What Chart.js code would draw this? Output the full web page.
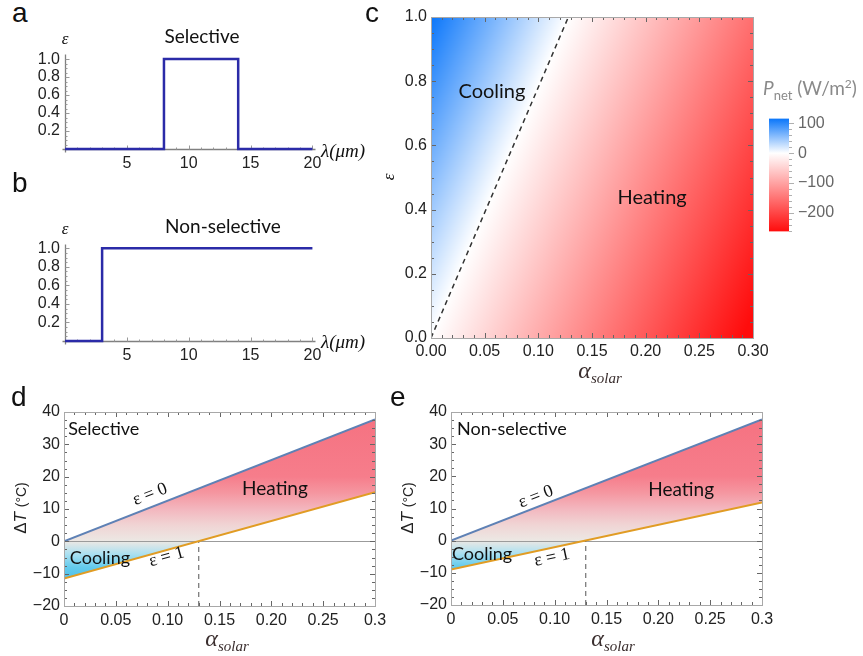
<!DOCTYPE html>
<html><head><meta charset="utf-8"><title>Selective vs non-selective emitters</title>
<script src="https://cdn.jsdelivr.net/npm/chart.js@4.4.1/dist/chart.umd.min.js"></script>
<style>
html,body{margin:0;padding:0;background:#fff;}
body{width:863px;height:656px;position:relative;overflow:hidden;}
canvas{position:absolute;}
.t{position:absolute;white-space:nowrap;line-height:1;color:#111;}
.c{transform:translate(-50%,-50%);}
.lm{transform:translate(0,-50%);}
.rot{transform:translate(-50%,-50%) rotate(-90deg);}
.pl{font-family:'Liberation Sans',Arial,sans-serif;font-size:28px;}
.ser{font-family:'Liberation Serif','Times New Roman',serif;font-style:italic;}
.cal{font-family:Lato,'Open Sans',sans-serif;}
.al{font-family:'Liberation Serif',serif;font-style:italic;color:#3b2f2f;font-size:24px;}
.al sub{font-size:15px;vertical-align:-5px;font-style:italic;}
.dt{font-family:'Liberation Sans',Arial,sans-serif;font-size:17px;color:#222;}
</style></head><body>
<canvas id="ca" style="left:0;top:40px" width="330" height="140"></canvas>
<canvas id="cb" style="left:0;top:230px" width="330" height="140"></canvas>
<canvas id="cc" style="left:360px;top:0" width="420" height="390"></canvas>
<canvas id="cbar" style="left:760px;top:100px" width="103" height="150"></canvas>
<canvas id="cd" style="left:0;top:390px" width="430" height="266"></canvas>
<canvas id="ce" style="left:385px;top:390px" width="478" height="266"></canvas>

<div class="t pl" style="left:12px;top:-1px">a</div>
<div class="t pl" style="left:12px;top:169px">b</div>
<div class="t pl" style="left:365px;top:-1px">c</div>
<div class="t pl" style="left:11px;top:383px">d</div>
<div class="t pl" style="left:390px;top:383px">e</div>

<div class="t c cal" style="left:202px;top:35px;font-size:19px">Selective</div>
<div class="t c cal" style="left:223px;top:225px;font-size:19px">Non-selective</div>
<div class="t c ser" style="left:65px;top:38px;font-size:17px">ε</div>
<div class="t c ser" style="left:65px;top:228px;font-size:17px">ε</div>
<div class="t lm ser" style="left:321px;top:150px;font-size:19px">λ(μm)</div>
<div class="t lm ser" style="left:321px;top:341px;font-size:19px">λ(μm)</div>
<div class="t rot ser" style="left:388px;top:177px;font-size:17px">ε</div>
<div class="t c al" style="left:600px;top:372px">α<sub>solar</sub></div>
<div class="t cal" style="left:763px;top:78px;font-size:19px;color:#8a8a8a"><i>P</i><span style="font-size:13px;position:relative;top:5px">net</span> (W/m<span style="font-size:12px;position:relative;top:-7px">2</span>)</div>
<div class="t rot dt" style="left:20px;top:508px">Δ<i>T</i> <span style="font-size:14px">(°C)</span></div>
<div class="t rot dt" style="left:407px;top:508px">Δ<i>T</i> <span style="font-size:14px">(°C)</span></div>
<div class="t c al" style="left:227px;top:640px">α<sub>solar</sub></div>
<div class="t c al" style="left:613px;top:640px">α<sub>solar</sub></div>

<script>
// ---------------- DATA ----------------
// panels a/b: emissivity spectra
const lambdaSel = [0, 8, 8, 14, 14, 20];
const epsSel    = [0, 0, 1, 1, 0, 0];
const lambdaNon = [0, 3, 3, 20];
const epsNon    = [0, 0, 1, 1];
const lambdaTicks = [5, 10, 15, 20];
const epsTicks = [0.2, 0.4, 0.6, 0.8, 1.0];

// panel c: net cooling power map P_net(alpha_solar, eps) in W/m2
const heatAlpha = [0, 0.05, 0.10, 0.15, 0.20, 0.25, 0.30];
const heatEps   = [0, 0.2, 0.4, 0.6, 0.8, 1.0];
const pnetRows = [
  [0,   -45,  -91, -136, -181, -227, -272],
  [23,  -22,  -67, -113, -158, -203, -249],
  [46,    1,  -44,  -89, -135, -180, -225],
  [70,   24,  -21,  -66, -112, -157, -202],
  [93,   48,    2,  -43,  -88, -134, -179],
  [116,  71,   25,  -20,  -65, -110, -156]
];
const zeroLineAlpha = [0, 0.128];
const zeroLineEps   = [0, 1];
const heatAlphaTicks = [0, 0.05, 0.10, 0.15, 0.20, 0.25, 0.30];
const heatEpsTicks = [0, 0.2, 0.4, 0.6, 0.8, 1.0];
const cbarRange = [-263, 116];
const cbarTicks = [100, 0, -100, -200];

// panels d/e: temperature difference vs solar absorptance
const alphaEnds = [0, 0.3];
const selEps0 = [0, 37.7];
const selEps1 = [-11.5, 15.2];
const nonEps0 = [0, 37.7];
const nonEps1 = [-9.0, 11.9];
const crossAlpha = [0.13, 0.13];
const crossDT = [-20, 0];
const alphaTicks = [0, 0.05, 0.10, 0.15, 0.20, 0.25, 0.30];
const alphaTickLabels = ['0', '0.05', '0.10', '0.15', '0.20', '0.25', '0.3'];
const dTTicks = [-20, -10, 0, 10, 20, 30, 40];

// ---------------- STYLE ----------------
const cmapVals = [-263, 0, 116];
const cmapCols = [[255, 12, 12], [255, 255, 255], [10, 118, 250]];
const bandVals = [-12, -8, -4, 0, 5, 10, 15, 20, 40];
const bandCols = ['rgb(75,192,235)', 'rgb(100,203,237)', 'rgb(170,224,241)', 'rgb(236,232,228)',
                  'rgb(240,212,212)', 'rgb(243,182,190)', 'rgb(245,150,160)', 'rgb(246,125,139)', 'rgb(245,113,128)'];

Chart.defaults.font.family = "'Liberation Sans', Arial, sans-serif";
Chart.defaults.font.size = 16;
Chart.defaults.color = '#222';

const rgb = c => 'rgb(' + c.map(Math.round).join(',') + ')';
const minus = v => (v < 0 ? '\u2212' + Math.abs(v) : '' + v);
function fixedTicks(arr) { return s => { s.ticks = arr.map(v => ({ value: v })); }; }
function pts(xs, ys) { return xs.map((x, i) => ({ x: x, y: ys[i] })); }

function linScale(min, max, ticks, fmt, size, pad, extra, color) {
  return Object.assign({
    type: 'linear', min: min, max: max,
    afterBuildTicks: fixedTicks(ticks),
    afterFit: s => { if (s.isHorizontal()) s.height = size; else s.width = size; },
    grid: { display: false, drawTicks: false },
    border: { display: false },
    ticks: { callback: fmt, padding: pad, font: { size: 16 }, color: color || '#222', autoSkip: false, maxRotation: 0 }
  }, extra || {});
}

function vGrad(ch, vals, cols) {
  const ys = ch.scales.y, ctx = ch.ctx;
  const p0 = ys.getPixelForValue(vals[0]), p1 = ys.getPixelForValue(vals[vals.length - 1]);
  const g = ctx.createLinearGradient(0, p0, 0, p1);
  const span = vals[vals.length - 1] - vals[0];
  vals.forEach((v, i) => g.addColorStop((v - vals[0]) / span, cols[i]));
  return g;
}

// ---------------- PLUGINS ----------------
const specAxes = {
  id: 'specAxes',
  beforeDatasetsDraw(ch) {
    const { ctx, chartArea: a, scales: { x, y } } = ch;
    const y0 = Math.round(y.getPixelForValue(0)) + 0.5, x0 = Math.round(x.getPixelForValue(0)) + 0.5;
    ctx.save();
    ctx.strokeStyle = '#808080'; ctx.lineWidth = 1.3;
    ctx.beginPath();
    ctx.moveTo(x0 - 3, y0); ctx.lineTo(a.right, y0);
    ctx.moveTo(x0, a.top); ctx.lineTo(x0, y0 + 3);
    ctx.stroke();
    ctx.lineWidth = 1; ctx.strokeStyle = '#999';
    ctx.beginPath();
    for (let k = 1; k <= 20; k++) {
      const px = Math.round(x.getPixelForValue(k)) + 0.5, L = (k % 5 === 0) ? 4 : 2;
      ctx.moveTo(px, y0); ctx.lineTo(px, y0 - L);
    }
    for (let k = 1; k <= 20; k++) {
      const py = Math.round(y.getPixelForValue(k * 0.05)) + 0.5, L = (k % 4 === 0) ? 4 : 2;
      ctx.moveTo(x0, py); ctx.lineTo(x0 + L, py);
    }
    ctx.stroke();
    ctx.restore();
  }
};

const framePlugin = {
  id: 'frame',
  afterDatasetsDraw(ch, args, o) {
    const { ctx, chartArea: a, scales: { x, y } } = ch;
    ctx.save();
    ctx.strokeStyle = '#666'; ctx.lineWidth = 1;
    ctx.beginPath();
    const nx = Math.round((x.max - x.min) / o.xMinor);
    for (let k = 0; k <= nx; k++) {
      const px = Math.round(x.getPixelForValue(x.min + k * o.xMinor)) + 0.5;
      const L = (k % o.xRatio === 0) ? 5 : 3;
      ctx.moveTo(px, a.bottom); ctx.lineTo(px, a.bottom - L);
      ctx.moveTo(px, a.top); ctx.lineTo(px, a.top + L);
    }
    const ny = Math.round((y.max - y.min) / o.yMinor);
    for (let k = 0; k <= ny; k++) {
      const py = Math.round(y.getPixelForValue(y.min + k * o.yMinor)) + 0.5;
      const L = (k % o.yRatio === 0) ? 5 : 3;
      ctx.moveTo(a.left, py); ctx.lineTo(a.left + L, py);
      ctx.moveTo(a.right, py); ctx.lineTo(a.right - L, py);
    }
    ctx.stroke();
    ctx.strokeStyle = '#a8a8a8';
    ctx.strokeRect(Math.round(a.left) + 0.5, Math.round(a.top) + 0.5, Math.round(a.width), Math.round(a.height));
    ctx.restore();
  }
};

// zero reference line drawn under the curves but over the band fill
const zeroPlugin = {
  id: 'zeroRef',
  beforeDatasetsDraw(ch) {
    const { ctx, chartArea: a, scales: { y } } = ch;
    const py = Math.round(y.getPixelForValue(0)) + 0.5;
    ctx.save();
    ctx.strokeStyle = '#9b9b9b'; ctx.lineWidth = 1.2;
    ctx.beginPath(); ctx.moveTo(a.left, py); ctx.lineTo(a.right, py); ctx.stroke();
    ctx.restore();
  }
};

const textPlugin = {
  id: 'texts',
  afterDraw(ch, args, o) {
    const { ctx, scales: { x, y } } = ch;
    (o.items || []).forEach(it => {
      ctx.save();
      ctx.font = it.font; ctx.fillStyle = it.color || '#111';
      ctx.textAlign = it.align || 'center'; ctx.textBaseline = 'middle';
      ctx.translate(x.getPixelForValue(it.x), y.getPixelForValue(it.y));
      if (it.along !== undefined) {
        const d = ch.data.datasets[it.along].data, e = d[d.length - 1];
        ctx.rotate(Math.atan2(y.getPixelForValue(e.y) - y.getPixelForValue(d[0].y),
                              x.getPixelForValue(e.x) - x.getPixelForValue(d[0].x)));
      }
      ctx.fillText(it.text, 0, 0);
      ctx.restore();
    });
  }
};

function seg(arr, v) {
  let i = 0;
  while (i < arr.length - 2 && v > arr[i + 1]) i++;
  const t = (v - arr[i]) / (arr[i + 1] - arr[i]);
  return [i, Math.max(0, Math.min(1, t))];
}
function pnetAt(al, e) {
  const [i, tx] = seg(heatAlpha, al), [j, ty] = seg(heatEps, e);
  const r0 = pnetRows[j], r1 = pnetRows[j + 1];
  const a0 = r0[i] * (1 - tx) + r0[i + 1] * tx, a1 = r1[i] * (1 - tx) + r1[i + 1] * tx;
  return a0 * (1 - ty) + a1 * ty;
}
function cmap(v) {
  if (v <= cmapVals[0]) return cmapCols[0];
  for (let i = 1; i < cmapVals.length; i++) {
    if (v <= cmapVals[i]) {
      const t = (v - cmapVals[i - 1]) / (cmapVals[i] - cmapVals[i - 1]);
      return cmapCols[i - 1].map((c, k) => c + (cmapCols[i][k] - c) * t);
    }
  }
  return cmapCols[cmapCols.length - 1];
}
const heatPlugin = {
  id: 'heat',
  beforeDatasetsDraw(ch) {
    const { ctx, chartArea: a, scales: { x, y } } = ch;
    const L = Math.round(a.left), T = Math.round(a.top);
    const W = Math.round(a.right) - L, H = Math.round(a.bottom) - T;
    const img = ctx.createImageData(W, H);
    for (let j = 0; j < H; j++) {
      const e = y.getValueForPixel(T + j + 0.5);
      for (let i = 0; i < W; i++) {
        const c = cmap(pnetAt(x.getValueForPixel(L + i + 0.5), e));
        const k = (j * W + i) * 4;
        img.data[k] = c[0]; img.data[k + 1] = c[1]; img.data[k + 2] = c[2]; img.data[k + 3] = 255;
      }
    }
    ctx.putImageData(img, L, T);
  }
};

const cbTicks = {
  id: 'cbTicks',
  afterDraw(ch) {
    const { ctx, chartArea: a, scales: { y } } = ch;
    ctx.save(); ctx.strokeStyle = '#b0b0b0'; ctx.lineWidth = 1;
    ctx.beginPath();
    for (let k = 0; k <= 18; k++) {
      const v = -260 + k * 20;
      const py = Math.round(y.getPixelForValue(v)) + 0.5, L = (v % 100 === 0) ? 5 : 3;
      ctx.moveTo(a.right, py); ctx.lineTo(a.right + L, py);
    }
    ctx.stroke(); ctx.restore();
  }
};

const base = { responsive: false, maintainAspectRatio: false, animation: false, events: [] };

// ---------------- PANELS a, b ----------------
function spectrum(id, xs, ys, top, yMax, xh) {
  new Chart(document.getElementById(id), {
    type: 'line',
    data: { datasets: [{ data: pts(xs, ys), borderColor: '#2b2ba8', borderWidth: 2.5, pointRadius: 0, tension: 0, fill: false, clip: false }] },
    options: Object.assign({}, base, {
      layout: { padding: { top: top, right: 14.5, left: 0, bottom: 0 } },
      plugins: { legend: { display: false }, tooltip: { enabled: false } },
      scales: {
        x: linScale(0, 20.25, lambdaTicks, v => '' + v, xh, 5),
        y: linScale(0, yMax, epsTicks, v => v.toFixed(1), 65, 5)
      }
    }),
    plugins: [specAxes]
  });
}
spectrum('ca', lambdaSel, epsSel, 12, 1.05, 31);
spectrum('cb', lambdaNon, epsNon, 13, 1.04, 29);

// ---------------- PANEL c ----------------
new Chart(document.getElementById('cc'), {
  type: 'line',
  data: { datasets: [{ data: pts(zeroLineAlpha, zeroLineEps), borderColor: '#333', borderWidth: 1.5, borderDash: [5, 4], pointRadius: 0, fill: false }] },
  options: Object.assign({}, base, {
    layout: { padding: { top: 17, right: 27, left: 0, bottom: 0 } },
    plugins: {
      legend: { display: false }, tooltip: { enabled: false },
      frame: { xMinor: 0.01, xRatio: 5, yMinor: 0.05, yRatio: 4 },
      texts: { items: [
        { text: 'Cooling', x: 0.0568, y: 0.769, font: "20px Lato, 'Open Sans', sans-serif" },
        { text: 'Heating', x: 0.206, y: 0.439, font: "20px Lato, 'Open Sans', sans-serif" }
      ] }
    },
    scales: {
      x: linScale(0, 0.3, heatAlphaTicks, v => v.toFixed(2), 52, 4),
      y: linScale(0, 1, heatEpsTicks, v => v.toFixed(1), 71, 4)
    }
  }),
  plugins: [heatPlugin, framePlugin, textPlugin]
});

// colour bar
new Chart(document.getElementById('cbar'), {
  type: 'bar',
  data: { labels: ['P'], datasets: [{
    data: [cbarRange],
    backgroundColor: c => c.chart.chartArea ? vGrad(c.chart, cmapVals, cmapCols.map(rgb)) : '#fff',
    borderWidth: 0, barPercentage: 1, categoryPercentage: 1
  }] },
  options: Object.assign({}, base, {
    layout: { padding: { top: 17, right: 0, left: 9, bottom: 13 } },
    plugins: { legend: { display: false }, tooltip: { enabled: false } },
    scales: {
      x: { display: false },
      y: linScale(cbarRange[0], cbarRange[1], cbarTicks, minus, 74, 9, { position: 'right' }, '#666')
    }
  }),
  plugins: [cbTicks]
});

// ---------------- PANELS d, e ----------------
function dtPanel(id, e0, e1, yw, pr, xh, items) {
  new Chart(document.getElementById(id), {
    type: 'line',
    data: { datasets: [
      { data: pts(alphaEnds, e0), borderColor: '#5e81b5', borderWidth: 2, pointRadius: 0, fill: '+1',
        backgroundColor: c => c.chart.chartArea ? vGrad(c.chart, bandVals, bandCols) : 'rgba(0,0,0,0)' },
      { data: pts(alphaEnds, e1), borderColor: '#e19c24', borderWidth: 2, pointRadius: 0, fill: false },
      { data: pts(crossAlpha, crossDT), borderColor: '#555', borderWidth: 1, borderDash: [5, 4], pointRadius: 0, fill: false }
    ] },
    options: Object.assign({}, base, {
      layout: { padding: { top: 22, right: pr, left: 0, bottom: 0 } },
      plugins: {
        legend: { display: false }, tooltip: { enabled: false },
        filler: { drawTime: 'beforeDatasetsDraw' },
        frame: { xMinor: 0.01, xRatio: 5, yMinor: 2.5, yRatio: 4 },
        texts: { items: items }
      },
      scales: {
        x: linScale(0, 0.3, alphaTicks, (v, i) => alphaTickLabels[i], xh, 5),
        y: linScale(-20, 40, dTTicks, minus, yw, 4)
      }
    }),
    plugins: [zeroPlugin, framePlugin, textPlugin]
  });
}
const calF = "18px Lato, 'Open Sans', sans-serif";
const serF = "18px 'Liberation Serif', 'Times New Roman', serif";
dtPanel('cd', selEps0, selEps1, 64, 55, 50, [
  { text: 'Selective', x: 0.004, y: 34.6, align: 'left', font: calF },
  { text: 'Heating', x: 0.2035, y: 16.1, font: "19px Lato, 'Open Sans', sans-serif" },
  { text: 'Cooling', x: 0.0347, y: -5.3, font: calF },
  { text: 'ε = 0', x: 0.083, y: 14.5, along: 0, font: serF },
  { text: 'ε = 1', x: 0.099, y: -4.9, along: 1, font: serF }
]);
dtPanel('ce', nonEps0, nonEps1, 66, 101, 51, [
  { text: 'Non-selective', x: 0.0058, y: 34.6, align: 'left', font: calF },
  { text: 'Heating', x: 0.222, y: 15.8, font: "19px Lato, 'Open Sans', sans-serif" },
  { text: 'Cooling', x: 0.030, y: -4.3, font: calF },
  { text: 'ε = 0', x: 0.082, y: 13.6, along: 0, font: serF },
  { text: 'ε = 1', x: 0.0974, y: -5.3, along: 1, font: serF }
]);
</script>
</body></html>
